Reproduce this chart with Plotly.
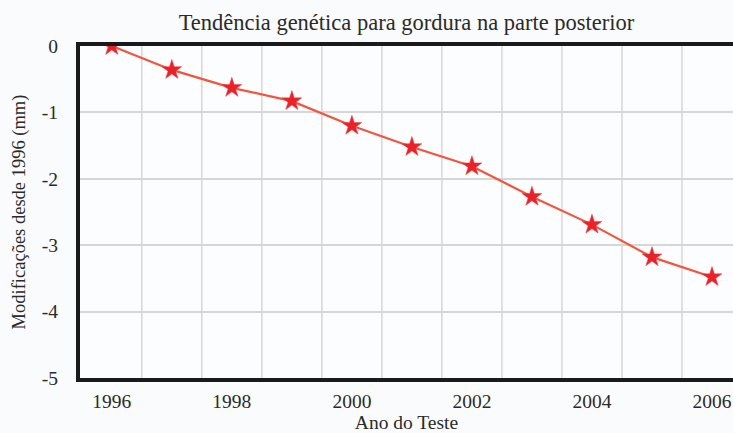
import plotly.graph_objects as go

years = [1996, 1997, 1998, 1999, 2000, 2001, 2002, 2003, 2004, 2005, 2006]
change_mm = [0, -0.36, -0.63, -0.83, -1.2, -1.52, -1.81, -2.27, -2.69, -3.18, -3.48]
x_ticks = [1996, 1998, 2000, 2002, 2004, 2006]
x_labels = ["1996", "1998", "2000", "2002", "2004", "2006"]
y_ticks = [0, -1, -2, -3, -4, -5]
y_labels = ["0", "-1", "-2", "-3", "-4", "-5"]
grid_x = [1996.5 + k for k in range(10)]

font = "Liberation Serif, Times New Roman, serif"
tickfont = dict(family=font, size=19.5, color="#2a2a2a")
fig = go.Figure()
fig.add_trace(go.Scatter(
    x=years, y=change_mm, mode="lines+markers",
    line=dict(color="#f2553f", width=2.2),
    marker=dict(symbol="star", size=15, color="#e8222a",
                line=dict(color="#f04040", width=0.5)),
    showlegend=False,
))
for gx in grid_x:
    fig.add_vline(x=gx, line=dict(color="#d6d6d6", width=1.5), layer="below")

fig.update_layout(
    width=733, height=433,
    margin=dict(l=80, r=0, t=46, b=55, autoexpand=False),
    paper_bgcolor="#fafbfc", plot_bgcolor="#fcfdfe",
    font=dict(family=font, color="#2a2a2a", size=19),
    title=dict(text="Tendência genética para gordura na parte posterior",
               x=0.5, xref="paper", y=0.95, yref="container",
               xanchor="center", yanchor="middle", automargin=False,
               font=dict(family=font, size=22.5, color="#2a2a2a")),
    xaxis=dict(range=[1995.47, 2006.35], tickvals=x_ticks, ticktext=x_labels,
               tickfont=tickfont, automargin=False,
               showgrid=False, zeroline=False,
               showline=True, linecolor="#1a1a1a", linewidth=4, mirror=True,
               ticks="", ticklabelstandoff=3,
               title=dict(text="Ano do Teste", standoff=4,
                          font=dict(family=font, size=19.5))),
    yaxis=dict(range=[-5, 0], tickvals=y_ticks, ticktext=y_labels,
               tickfont=tickfont, automargin=False,
               showgrid=True, gridcolor="#d6d6d6", gridwidth=1.5,
               zeroline=False,
               showline=True, linecolor="#1a1a1a", linewidth=4,
               ticks="", ticklabelstandoff=14,
               title=dict(text="Modificações desde 1996 (mm)", standoff=12,
                          font=dict(family=font, size=18.5))),
)
fig.write_html("out.html", config={"displayModeBar": False},
               post_script="document.body.style.margin='0';")
